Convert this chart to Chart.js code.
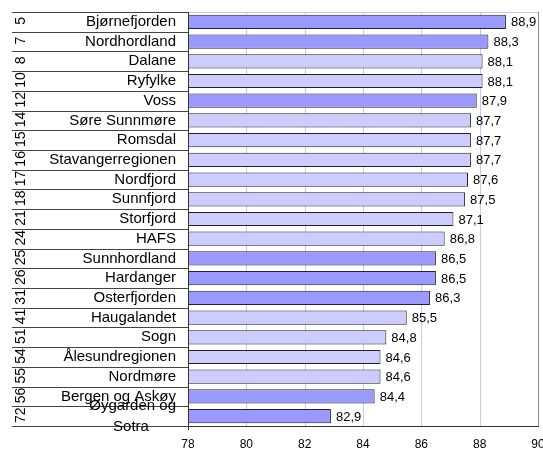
<!DOCTYPE html>
<html>
<head>
<meta charset="utf-8">
<script src="https://cdn.jsdelivr.net/npm/chart.js@4"></script>
<style>
  html, body { margin: 0; padding: 0; background: #fff; }
  #wrap { width: 543px; height: 449px; }
</style>
</head>
<body>
<div id="wrap"><canvas id="myChart" width="543" height="449"></canvas></div>
<script>
const regions = ['Bjørnefjorden', 'Nordhordland', 'Dalane', 'Ryfylke', 'Voss', 'Søre Sunnmøre',
  'Romsdal', 'Stavangerregionen', 'Nordfjord', 'Sunnfjord', 'Storfjord', 'HAFS', 'Sunnhordland',
  'Hardanger', 'Osterfjorden', 'Haugalandet', 'Sogn', 'Ålesundregionen', 'Nordmøre',
  'Bergen og Askøy', 'Øygarden og Sotra'];
const ranks = [5, 7, 8, 10, 12, 14, 15, 16, 17, 18, 21, 24, 25, 26, 31, 41, 51, 54, 55, 56, 72];
const scores = [88.9, 88.3, 88.1, 88.1, 87.9, 87.7, 87.7, 87.7, 87.6, 87.5, 87.1, 86.8, 86.5,
  86.5, 86.3, 85.5, 84.8, 84.6, 84.6, 84.4, 82.9];
// regions drawn in the darker colour
const hordaland = ['Bjørnefjorden', 'Nordhordland', 'Voss', 'Sunnhordland', 'Hardanger',
  'Osterfjorden', 'Bergen og Askøy', 'Øygarden og Sotra'];
const xMin = 78, xMax = 90, xStep = 2;

const FONT = '"Liberation Sans", Arial, sans-serif';

// vertical grid lines behind the bars
const gridPlugin = {
  id: 'grid',
  beforeDatasetsDraw(chart) {
    const ctx = chart.ctx;
    const area = chart.chartArea;
    const x = chart.scales.x;
    ctx.save();
    ctx.lineWidth = 1;
    x.ticks.forEach(t => {
      if (t.value === xMin) return;
      const xx = Math.round(x.getPixelForValue(t.value)) + 0.5;
      ctx.strokeStyle = t.value === xMax ? '#888' : '#c8c8f4';
      ctx.beginPath();
      ctx.moveTo(xx, area.top);
      ctx.lineTo(xx, area.bottom);
      ctx.stroke();
    });
    ctx.restore();
  }
};

// left table: rank numbers, names and row lines, plus value labels
const tablePlugin = {
  id: 'table',
  afterDraw(chart) {
    const ctx = chart.ctx;
    const area = chart.chartArea;
    const y = chart.scales.y;
    const rowH = (area.bottom - area.top) / regions.length;
    ctx.save();

    ctx.strokeStyle = '#444';
    ctx.lineWidth = 1;
    for (let i = 0; i <= regions.length; i++) {
      const yy = Math.round(area.top + i * rowH) + 0.5;
      ctx.beginPath();
      ctx.moveTo(12, yy);
      ctx.lineTo(area.left, yy);
      ctx.stroke();
    }
    ctx.strokeStyle = '#c8c8c8';
    ctx.beginPath();
    ctx.moveTo(area.left, Math.round(area.top) + 0.5);
    ctx.lineTo(area.right, Math.round(area.top) + 0.5);
    ctx.stroke();
    ctx.strokeStyle = '#333';
    ctx.beginPath();
    ctx.moveTo(Math.round(area.left) + 0.5, area.top);
    ctx.lineTo(Math.round(area.left) + 0.5, area.bottom + 4);
    ctx.stroke();

    ctx.fillStyle = '#000';
    regions.forEach((name, i) => {
      const cy = y.getPixelForValue(i);
      ctx.font = '15px ' + FONT;
      ctx.textBaseline = 'middle';
      if (name === 'Øygarden og Sotra') {
        ctx.textAlign = 'right';
        ctx.fillText('Øygarden og', 176, cy - 10);
        ctx.textAlign = 'center';
        ctx.fillText('Sotra', 131, cy + 11);
      } else {
        ctx.textAlign = 'right';
        ctx.fillText(name, 176, cy);
      }
      ctx.save();
      ctx.translate(21, cy - 1);
      ctx.rotate(-Math.PI / 2);
      ctx.font = '14px ' + FONT;
      ctx.textAlign = 'center';
      ctx.textBaseline = 'middle';
      ctx.fillText(String(ranks[i]), 0, 0);
      ctx.restore();
    });

    const meta = chart.getDatasetMeta(0);
    ctx.font = '13px ' + FONT;
    ctx.textAlign = 'left';
    ctx.textBaseline = 'middle';
    meta.data.forEach((bar, i) => {
      ctx.fillText(scores[i].toFixed(1).replace('.', ','), bar.x + 5, bar.y + 1);
    });
    ctx.restore();
  }
};

new Chart(document.getElementById('myChart').getContext('2d'), {
  type: 'bar',
  data: {
    labels: regions,
    datasets: [{
      data: scores,
      backgroundColor: regions.map(r => hordaland.includes(r) ? '#9999ff' : '#ccccff'),
      borderColor: '#222',
      borderWidth: 1,
      borderSkipped: false,
      categoryPercentage: 1,
      barPercentage: 0.72
    }]
  },
  options: {
    indexAxis: 'y',
    responsive: false,
    animation: false,
    layout: { padding: { left: 188, right: 5, top: 12, bottom: 0 } },
    plugins: { legend: { display: false }, tooltip: { enabled: false } },
    scales: {
      x: {
        min: xMin,
        max: xMax,
        afterFit(scale) { scale.height = 23; scale.paddingLeft = 0; scale.paddingRight = 0; },
        ticks: { stepSize: xStep, color: '#000', font: { size: 12, family: FONT }, padding: 11, maxRotation: 0 },
        grid: { display: false, drawTicks: false },
        border: { display: true, color: '#333' }
      },
      y: { display: false }
    }
  },
  plugins: [gridPlugin, tablePlugin]
});
</script>
</body>
</html>
